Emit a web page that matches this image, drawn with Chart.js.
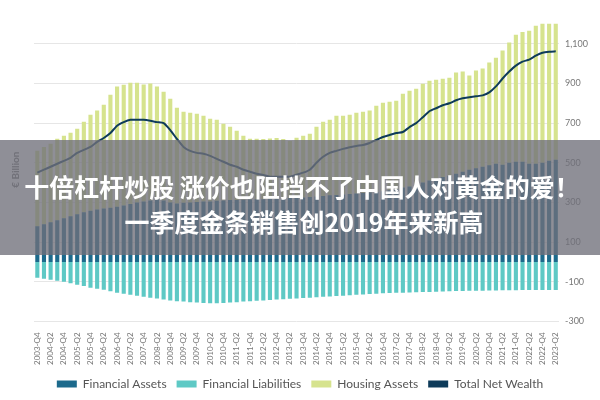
<!DOCTYPE html>
<html>
<head>
<meta charset="utf-8">
<script src="https://cdn.jsdelivr.net/npm/chart.js@4"></script>
<style>
  body { margin: 0; background: #fff; }
  #wrap { width: 600px; height: 400px; }
</style>
</head>
<body>
<div id="wrap"><canvas id="wealth"></canvas></div>
<script>
// quarters 2003-Q4 .. 2023-Q2
const labelsWealth = []
for (let y = 2003; y <= 2023; y++) {
  for (let q = 1; q <= 4; q++) {
    if ((y === 2003 && q < 4) || (y === 2023 && q > 2)) continue
    labelsWealth.push(y + '-Q' + q)
  }
}

const financialAssets = [
  180, 190, 200, 210, 220, 230, 240, 250, 258, 265,
  270, 273, 278, 285, 292, 300, 305, 310, 315, 310,
  300, 295, 298, 300, 302, 305, 305, 308, 310, 312,
  312, 314, 315, 316, 316, 318, 318, 320, 322, 324,
  325, 327, 330, 333, 336, 338, 340, 342, 345, 348,
  350, 353, 357, 362, 367, 375, 380, 390, 400, 410,
  420, 428, 435, 445, 455, 465, 472, 480, 488, 495,
  490, 500, 505, 505, 495, 495, 500, 510, 515,
]
const financialLiabilities = [
  -80, -85, -90, -95, -100, -108, -115, -122, -130, -135,
  -140, -148, -155, -160, -165, -170, -175, -180, -185, -190,
  -195, -198, -200, -203, -205, -207, -208, -208, -207, -205,
  -203, -200, -198, -196, -194, -192, -190, -188, -186, -184,
  -182, -180, -178, -176, -174, -172, -170, -168, -166, -164,
  -162, -160, -158, -157, -156, -155, -154, -153, -152, -151,
  -150, -149, -148, -147, -146, -145, -145, -145, -144, -144,
  -143, -143, -143, -142, -142, -142, -142, -141, -141,
]
const housingAssets = [
  380, 390, 396, 411, 416, 421, 432, 457, 484, 498,
  523, 570, 606, 609, 612, 604, 590, 590, 569, 548,
  523, 483, 459, 452, 445, 432, 417, 409, 387, 370,
  349, 322, 306, 305, 304, 304, 307, 300, 288, 302,
  311, 319, 352, 374, 381, 399, 397, 400, 407, 409,
  413, 435, 446, 446, 446, 473, 483, 483, 499, 504,
  499, 496, 494, 510, 505, 475, 493, 495, 517, 535,
  576, 606, 641, 655, 671, 696, 701, 691, 686,
]
const totalNetWealth = [
  450, 465, 480, 495, 510, 525, 550, 565, 580, 605,
  625, 650, 687, 705, 717, 717, 717, 712, 705, 700,
  665, 620, 580, 560, 550, 545, 535, 520, 505, 490,
  480, 465, 455, 445, 438, 430, 430, 430, 430, 440,
  450, 465, 500, 530, 550, 560, 570, 578, 585, 590,
  600, 615, 630, 640, 650, 655, 680, 700, 730, 760,
  775, 790, 800, 815, 825, 830, 835, 840, 855, 885,
  925, 960, 990, 1010, 1020, 1040, 1055, 1060, 1062,
]
const yTicks = [-300, -100, 100, 300, 500, 700, 900, 1100]
const legendOrder = ['Financial Assets', 'Financial Liabilities', 'Housing Assets', 'Total Net Wealth']

const titleLines = [
  '十倍杠杆炒股 涨价也阻挡不了中国人对黄金的爱！',
  '一季度金条销售创2019年来新高',
]

// grey banner with the headline drawn over the chart
const bannerPlugin = {
  id: 'banner',
  afterDraw: chart => {
    const c = chart.ctx
    c.save()
    c.fillStyle = 'rgba(112,112,122,0.78)'
    c.fillRect(0, 140, chart.width, 115)
    c.fillStyle = '#fff'
    c.textAlign = 'center'
    c.textBaseline = 'middle'
    c.font = 'bold 25px "Noto Sans CJK SC"'
    c.fillText(titleLines[0], 302, 187)
    c.fillText(titleLines[1], 304, 222)
    c.restore()
  },
}

const barOpts = { barPercentage: 0.62, categoryPercentage: 1, stack: 'bars' }

const configWealth = {
  data: {
    labels: labelsWealth,
    datasets: [
      {
        type: 'line',
        label: 'Total Net Wealth',
        data: totalNetWealth,
        stack: 'net',
        borderColor: '#0e3b5a',
        backgroundColor: '#0e3b5a',
        borderWidth: 2,
        pointRadius: 0,
        tension: 0.2,
        order: 0,
      },
      { type: 'bar', label: 'Financial Assets', data: financialAssets, backgroundColor: '#1c6a8c', order: 1, ...barOpts },
      { type: 'bar', label: 'Financial Liabilities', data: financialLiabilities, backgroundColor: '#5ec9c5', order: 1, ...barOpts },
      { type: 'bar', label: 'Housing Assets', data: housingAssets, backgroundColor: '#d6e38e', order: 1, ...barOpts },
    ],
  },
  plugins: [bannerPlugin],
  options: {
    responsive: true,
    maintainAspectRatio: false,
    animation: false,
    layout: { padding: { top: 18, left: 6, right: 6 } },
    plugins: {
      legend: {
        position: 'bottom',
        labels: {
          boxWidth: 20,
          boxHeight: 7,
          padding: 10,
          color: '#555',
          font: { family: 'Lato', size: 12 },
          sort: (a, b) => legendOrder.indexOf(a.text) - legendOrder.indexOf(b.text),
          generateLabels: chart => Chart.defaults.plugins.legend.labels.generateLabels(chart).map(l => {
            l.lineWidth = 0
            return l
          }),
        },
      },
      tooltip: { enabled: false },
    },
    scales: {
      x: {
        stacked: true,
        grid: { display: false },
        border: { display: false },
        ticks: {
          autoSkip: false,
          maxRotation: 90,
          minRotation: 90,
          color: '#777',
          font: { family: 'Lato', size: 8 },
          callback: (v, i) => (i % 2 === 0 ? labelsWealth[i] : ''),
        },
      },
      y: {
        stacked: true,
        position: 'right',
        min: -300,
        max: 1230,
        afterBuildTicks: axis => { axis.ticks = yTicks.map(v => ({ value: v })) },
        grid: { color: '#e6e6e6', drawTicks: false },
        border: { display: false },
        ticks: {
          color: '#777',
          padding: 6,
          font: { family: 'Lato', size: 9 },
          callback: v => v.toLocaleString('en-US'),
        },
      },
      yLeft: {
        position: 'left',
        grid: { display: false },
        border: { display: false },
        ticks: { display: false },
        title: { display: true, text: '€ Billion', color: '#777', font: { family: 'Lato', size: 10, weight: 'bold' } },
      },
    },
  },
}
const wealthChart = new Chart(document.getElementById('wealth').getContext('2d'), configWealth)
</script>
</body>
</html>
